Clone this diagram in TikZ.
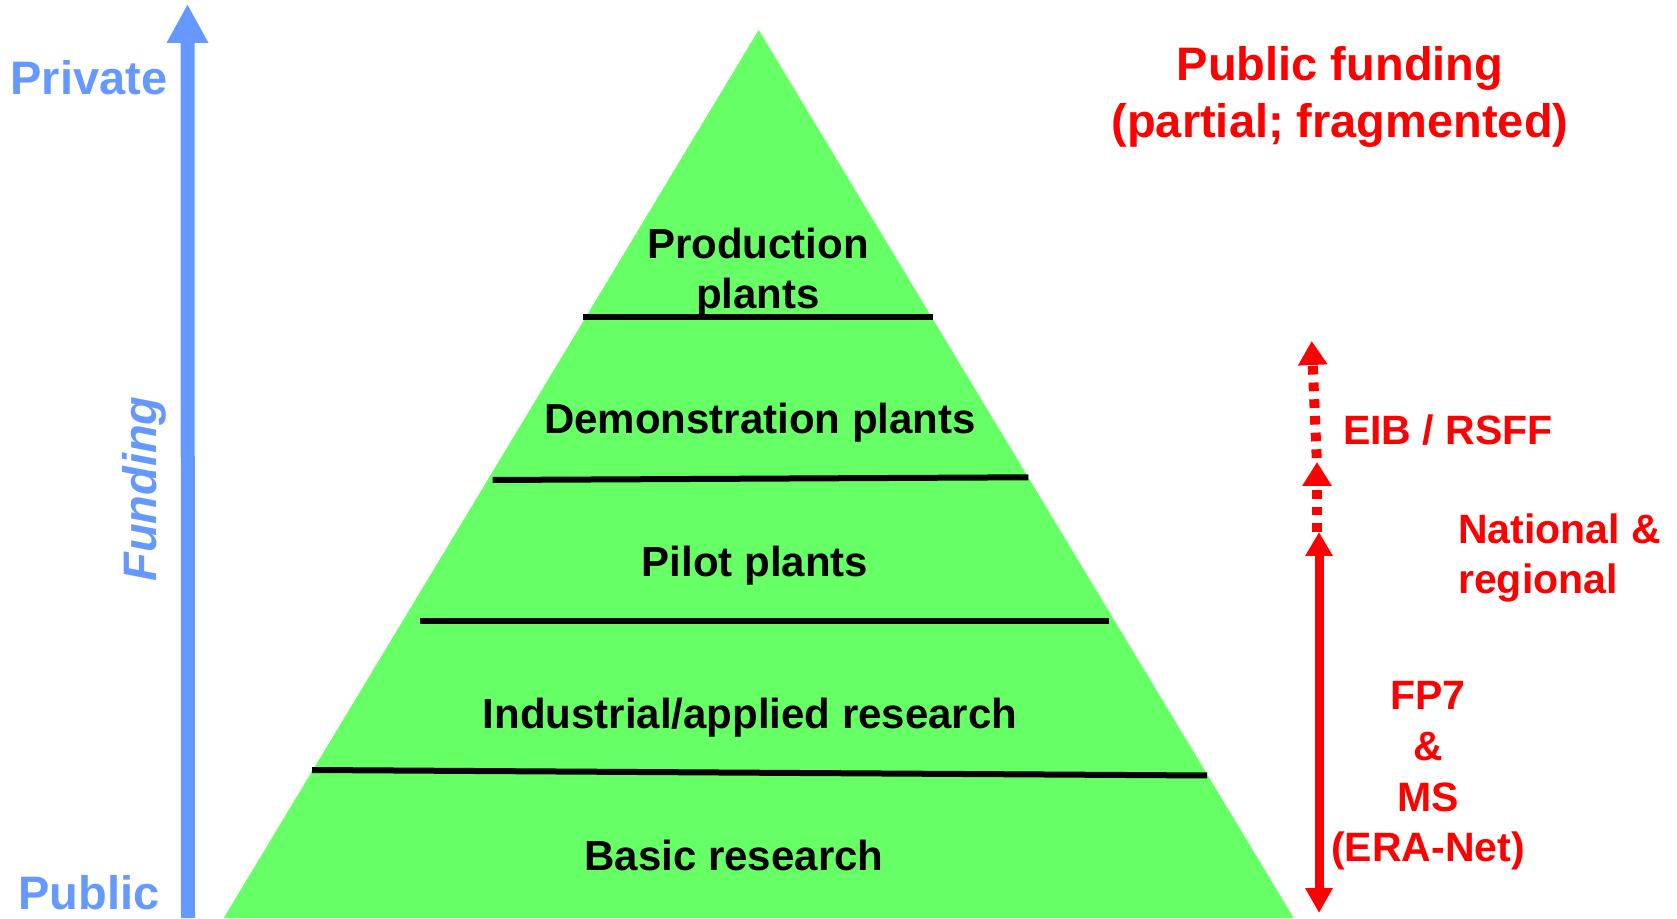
\documentclass[tikz,border=0pt]{standalone}
\usepackage{fontspec}
\setmainfont{Liberation Sans}
\usetikzlibrary{arrows.meta}
\definecolor{pyrgreen}{HTML}{66FF66}
\definecolor{fundblue}{HTML}{6699FF}
\definecolor{fundred}{HTML}{FF0000}
\begin{document}
\begin{tikzpicture}[x=1pt,y=1pt,
  blk/.style={font=\fontsize{42}{50}\selectfont\bfseries, text=black, inner sep=0pt, align=center},
  redtxt/.style={font=\fontsize{41}{50.7}\selectfont\bfseries, text=fundred, inner sep=0pt, align=center},
  bluetxt/.style={font=\fontsize{47}{56}\selectfont\bfseries, text=fundblue, inner sep=0pt},
  sep/.style={line width=6pt, black},
  redarrow/.style={draw=fundred, line width=10pt, -{Triangle[width=28pt,length=24pt]}},
]
\useasboundingbox (0,0) rectangle (1677,918);
% pyramid
\coordinate (bl) at (223.7,0);
\coordinate (apex) at (758.7,888);
\coordinate (br) at (1293.7,0);
\fill[pyrgreen] (bl) -- (apex) -- (br) -- cycle;
% separators
\coordinate (s1l) at (583.3,601.3); \coordinate (s1r) at (933.3,601.3);
\coordinate (s2l) at (492.7,438); \coordinate (s2r) at (1028.3,440.7);
\coordinate (s3l) at (420,297); \coordinate (s3r) at (1109.3,297);
\coordinate (s4l) at (312,148); \coordinate (s4r) at (1207,142.5);
\draw[sep] (s1l) -- (s1r);
\draw[sep] (s2l) -- (s2r);
\draw[sep] (s3l) -- (s3r);
\draw[sep] (s4l) -- (s4r);
% level labels
\node[blk] (prod) at (758,645) {Production\\plants};
\node[blk] (demo) at (760,495.5) {Demonstration plants};
\node[blk] (pilot) at (755,352) {Pilot plants};
\node[blk] (ind) at (750,200) {Industrial/applied research};
\node[blk] (basic) at (734,63) {Basic research};
% blue funding axis
\coordinate (bbot) at (188,0);
\coordinate (btop) at (187.5,914);
\draw[fundblue, line width=14pt, -{Triangle[width=39pt,length=39pt]}] (bbot) -- (btop);
\node[bluetxt] (priv) at (89,840) {Private};
\node[bluetxt] (pub) at (89,25) {Public};
\node[bluetxt, font=\fontsize{47}{56}\selectfont\bfseries\itshape, rotate=90] (fund) at (144,429) {Funding};
% public funding header
\node[redtxt, font=\fontsize{47}{57}\selectfont\bfseries] (pf) at (1340,821) {Public funding\\(partial; fragmented)};
% red arrows
\coordinate (a1s) at (1316.7,460); \coordinate (a1t) at (1311.7,577);
\coordinate (a2s) at (1317,386); \coordinate (a2t) at (1317,456);
\coordinate (a3s) at (1319,5); \coordinate (a3t) at (1319,386);
\draw[redarrow, dash pattern=on 8.7pt off 8pt] (a1s) -- (a1t);
\draw[redarrow, dash pattern=on 8.7pt off 8pt] (a2s) -- (a2t);
\draw[draw=fundred, line width=9pt, {Triangle[width=26pt,length=25pt]}-{Triangle[width=26pt,length=24pt]}] (a3s) -- (a3t);
\node[redtxt] (eib) at (1448,488) {EIB / RSFF};
\node[redtxt, anchor=west, align=left] (nat) at (1458,360) {National \&\\regional};
\node[redtxt] (fp7) at (1428,142) {FP7\\\&\\MS\\(ERA-Net)};
\end{tikzpicture}
\end{document}
